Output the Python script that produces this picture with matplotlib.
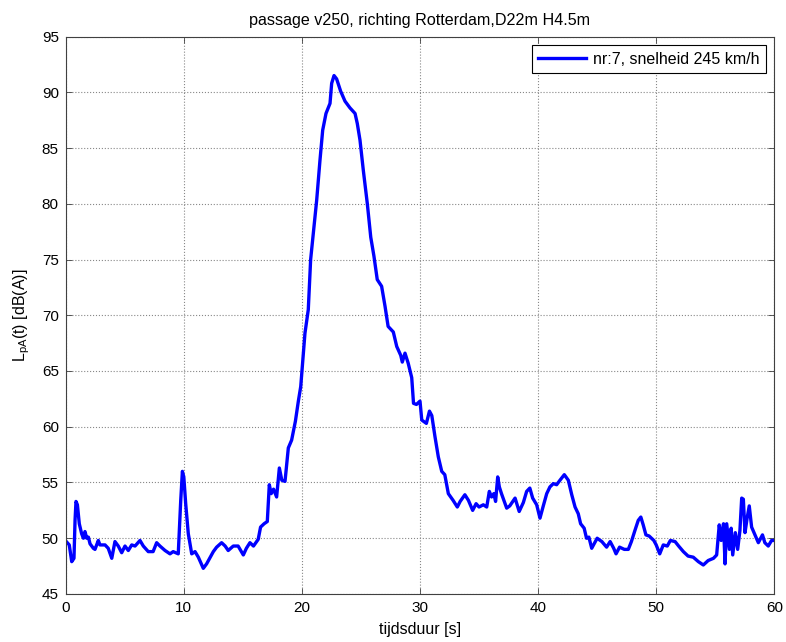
import matplotlib
matplotlib.use('Agg')
import matplotlib.pyplot as plt

plt.rcParams['font.family'] = ['Liberation Sans', 'DejaVu Sans']

# tijd [s] en niveau [dB(A)]
t = [0.05, 0.3, 0.51, 0.7, 0.79, 0.87, 0.99, 1.15, 1.35, 1.5, 1.63, 1.78, 1.92,
     2.06, 2.34, 2.48, 2.76, 2.9, 3.33, 3.6, 3.9, 4.17, 4.45, 4.74, 5.02, 5.3,
     5.59, 5.87, 6.29, 6.57, 6.99, 7.4, 7.7, 7.98, 8.41, 8.83, 9.1, 9.53, 9.74,
     9.88, 10.0, 10.16, 10.38, 10.67, 10.95, 11.23, 11.65, 11.93, 12.5, 12.78,
     13.2, 13.5, 13.76, 14.19, 14.6, 15.04, 15.3, 15.6, 15.9, 16.3, 16.5, 16.8,
     17.07, 17.24, 17.4, 17.6, 17.86, 18.09, 18.3, 18.57, 18.85, 19.13, 19.45,
     19.7, 19.9, 20.12, 20.26, 20.54, 20.74, 20.97, 21.25, 21.53, 21.76, 22.04,
     22.38, 22.52, 22.72, 22.94, 23.28, 23.65, 24.07, 24.5, 24.69, 24.92, 25.2,
     25.54, 25.83, 26.1, 26.38, 26.75, 27.04, 27.3, 27.74, 28.03, 28.37, 28.5,
     28.73, 29.0, 29.3, 29.45, 29.7, 30.0, 30.15, 30.54, 30.8, 31.0, 31.27,
     31.55, 31.84, 32.1, 32.4, 32.8, 33.16, 33.4, 33.8, 34.1, 34.46, 34.75, 35.0,
     35.36, 35.65, 35.87, 36.06, 36.25, 36.4, 36.58, 36.72, 36.9, 37.34, 37.6,
     38.05, 38.4, 38.75, 39.03, 39.3, 39.54, 39.88, 40.16, 40.44, 40.73, 41.0,
     41.29, 41.57, 41.85, 42.22, 42.56, 42.85, 43.13, 43.4, 43.6, 43.9, 44.1,
     44.3, 44.54, 44.8, 45.0, 45.4, 45.8, 46.1, 46.4, 46.6, 46.9, 47.3, 47.64,
     47.9, 48.2, 48.48, 48.7, 48.9, 49.13, 49.4, 49.8, 50.0, 50.3, 50.6, 50.94,
     51.2, 51.6, 51.9, 52.3, 52.7, 53.14, 53.57, 53.99, 54.4, 54.85, 55.12,
     55.34, 55.5, 55.7, 55.83, 55.97, 56.2, 56.35, 56.48, 56.7, 56.9, 57.09,
     57.24, 57.38, 57.52, 57.7, 57.88, 58.08, 58.36, 58.65, 59.0, 59.2, 59.49,
     59.77, 60.0]
LpA = [49.7, 49.4, 47.9, 48.2, 51.6, 53.3, 53.0, 51.3, 50.4, 50.0, 50.6, 50.0,
       50.1, 49.5, 49.1, 49.0, 49.8, 49.4, 49.4, 49.1, 48.2, 49.7, 49.3, 48.7,
       49.3, 48.9, 49.4, 49.3, 49.8, 49.3, 48.8, 48.8, 49.6, 49.3, 48.9, 48.6,
       48.8, 48.6, 53.4, 56.0, 55.5, 53.1, 50.4, 48.6, 48.8, 48.3, 47.3, 47.7,
       48.8, 49.2, 49.6, 49.3, 48.9, 49.3, 49.3, 48.5, 49.1, 49.6, 49.3, 49.9,
       51.0, 51.3, 51.5, 54.8, 54.0, 54.4, 53.7, 56.3, 55.2, 55.1, 58.1, 58.8,
       60.5, 62.3, 63.6, 66.6, 68.4, 70.5, 75.0, 77.4, 80.3, 83.9, 86.6, 88.1,
       89.0, 90.8, 91.5, 91.2, 90.1, 89.2, 88.6, 88.1, 87.2, 85.7, 83.0, 80.0,
       77.0, 75.3, 73.2, 72.6, 70.8, 69.0, 68.5, 67.2, 66.4, 65.8, 66.6, 65.7,
       64.4, 62.1, 62.0, 62.3, 60.6, 60.3, 61.4, 61.0, 59.1, 57.3, 56.0, 55.7,
       54.0, 53.4, 52.8, 53.3, 53.9, 53.4, 52.5, 53.1, 52.8, 53.0, 52.8, 54.2,
       53.7, 54.0, 53.3, 55.5, 54.6, 54.0, 52.7, 52.9, 53.6, 52.4, 53.2, 54.2,
       54.5, 53.6, 53.0, 51.8, 52.9, 54.0, 54.6, 54.9, 54.8, 55.2, 55.7, 55.2,
       53.9, 52.8, 52.2, 51.3, 50.9, 50.0, 50.1, 49.1, 49.6, 50.0, 49.7, 49.2,
       49.7, 49.1, 48.6, 49.2, 49.0, 49.0, 49.7, 50.7, 51.6, 51.9, 51.2, 50.3,
       50.2, 49.8, 49.4, 48.6, 49.4, 49.3, 49.8, 49.7, 49.3, 48.8, 48.4, 48.3,
       47.9, 47.6, 48.0, 48.2, 48.5, 51.2, 49.8, 51.3, 47.7, 51.3, 49.0, 50.9,
       48.5, 50.5, 49.0, 50.7, 53.6, 53.5, 50.5, 51.8, 52.9, 51.0, 50.3, 49.6,
       50.3, 49.6, 49.3, 49.8, 49.8]

legend_label = 'nr:7, snelheid 245 km/h'
xticks = range(0, 61, 10)
yticks = range(45, 96, 5)

fig = plt.figure(figsize=(7.86, 6.42), dpi=100)
ax = fig.add_axes([0.0836, 0.0748, 0.9015, 0.8683])

ax.plot(t, LpA, color='#0000ff', linewidth=2.4, label=legend_label)

ax.set_xlim(0, 60)
ax.set_ylim(45, 95)
ax.set_xticks(xticks)
ax.set_yticks(yticks)
ax.tick_params(direction='in', top=True, right=True, length=4, width=0.6,
               labelsize=11, color='#404040', pad=5)
for s in ax.spines.values():
    s.set_linewidth(0.8)
    s.set_color('#404040')
ax.grid(True, linestyle=':', color='#888888', linewidth=0.8)

ax.set_title('passage v250, richting Rotterdam,D22m H4.5m', fontsize=11.6, pad=8)
ax.set_xlabel('tijdsduur [s]', fontsize=11.5, labelpad=5)
ax.set_ylabel(r'$\mathregular{L_{pA}}$(t) [dB(A)]', fontsize=11.5, labelpad=7)

leg = ax.legend(loc='upper right', fontsize=11.5, fancybox=False, framealpha=1,
                edgecolor='black', borderaxespad=0.55, handlelength=3.0,
                handletextpad=0.4, borderpad=0.4)
leg.get_frame().set_linewidth(0.8)

plt.savefig('out.png', dpi=100)
plt.close()
